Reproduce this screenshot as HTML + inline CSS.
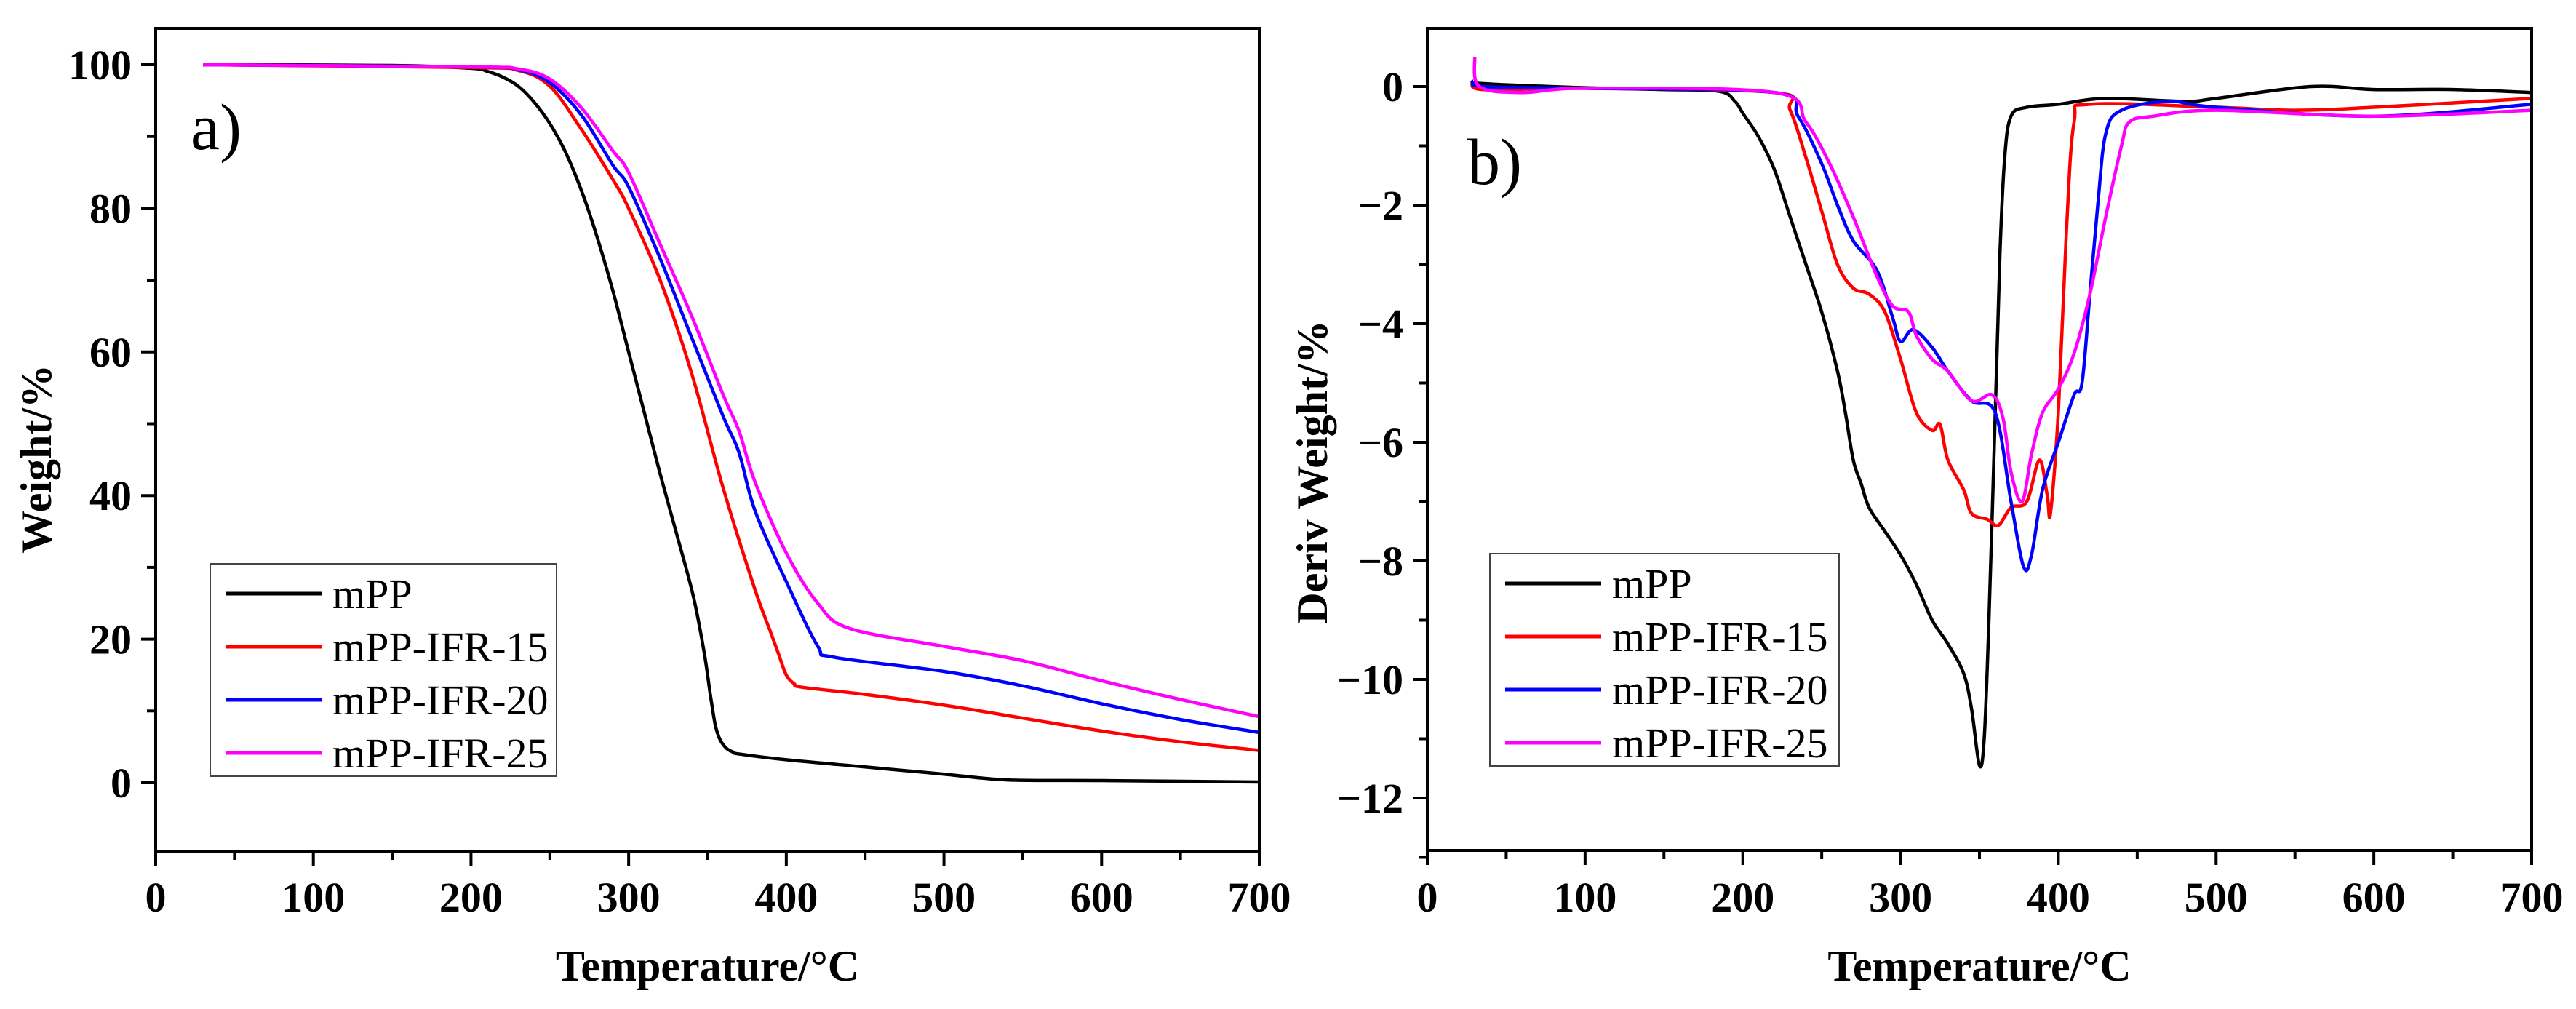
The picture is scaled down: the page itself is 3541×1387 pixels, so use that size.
<!DOCTYPE html>
<html><head><meta charset="utf-8"><style>
html,body{margin:0;padding:0;background:#fff;}
svg{display:block;font-family:"Liberation Serif","DejaVu Serif",serif;}
svg text{font-family:"Liberation Serif","DejaVu Serif",serif;}
</style></head><body>
<svg id="c" width="3541" height="1387" viewBox="0 0 3541 1387" xmlns="http://www.w3.org/2000/svg"></svg>
<script>
// ---- Data: TGA (panel a) ----
const tgaT_mPP = [30,150,200,210,220,230,240,250,260,270,280,290,300,310,320,330,341,348,352,355,358,362,366,370,400,450,500,540,600,700];
const tgaW_mPP = [100,99.9,99.5,99.1,98.3,97,94.8,91.8,87.8,82.5,76,68.5,60,51.5,43,35,26,18,12,8,6,4.8,4.3,4,3.2,2.2,1.2,0.4,0.3,0.1];
const tgaT_15 = [30,200,230,250,270,290,300,320,340,360,380,390,395,400,405,410,450,500,550,600,650,700];
const tgaW_15 = [100,99.6,99.2,97,91,84,80,70,57,41,27,21,18,15,13.8,13.3,12.3,10.8,9,7.2,5.7,4.5];
const tgaT_20 = [30,200,230,250,270,290,300,320,340,360,370,380,400,420,430,500,550,600,650,700];
const tgaW_20 = [100,99.7,99.3,97.5,93,86,83,73,62,51,46,38,28,19,17.5,15.5,13.5,11,8.8,7];
const tgaT_25 = [30,200,230,250,270,290,300,320,340,360,370,380,400,420,440,500,550,600,650,700];
const tgaW_25 = [100,99.7,99.4,98,94,88,85,75,65,54,49,42,32,25,21.5,19,17,14.2,11.6,9.2];
// ---- Data: DTG (panel b) ----
const dtgT_mPP = [30,35,100,150,185,195,200,210,220,230,240,250,260,265,270,275,280,290,300,310,320,330,340,345,350,353,356,360,363,366,370,380,400,430,480,500,560,600,650,700];
const dtgD_mPP = [0.1,0.05,-0.02,-0.05,-0.08,-0.25,-0.45,-0.85,-1.4,-2.2,-3.0,-3.8,-4.8,-5.5,-6.3,-6.7,-7.1,-7.5,-7.9,-8.4,-9.0,-9.4,-9.9,-10.5,-11.45,-11.0,-9,-5.5,-2.8,-1.2,-0.5,-0.35,-0.3,-0.2,-0.25,-0.2,0.0,-0.05,-0.05,-0.1];
const dtgT_15 = [30,35,100,220,230,240,250,260,270,280,290,300,310,320,325,330,340,345,355,362,370,380,388,393,395,400,405,410,420,500,550,600,700];
const dtgD_15 = [0.1,-0.05,-0.03,-0.1,-0.4,-1.2,-2.1,-3.0,-3.4,-3.5,-3.8,-4.6,-5.5,-5.8,-5.7,-6.3,-6.8,-7.2,-7.3,-7.4,-7.1,-7.0,-6.3,-6.9,-7.2,-5.5,-2.5,-0.6,-0.3,-0.35,-0.4,-0.35,-0.2];
const dtgT_20 = [30,35,100,220,235,250,260,270,285,295,300,308,320,330,345,360,370,378,383,390,400,410,415,420,425,430,440,470,500,600,700];
const dtgD_20 = [0.1,0.0,-0.03,-0.1,-0.5,-1.3,-2.0,-2.6,-3.1,-3.9,-4.3,-4.1,-4.4,-4.8,-5.3,-5.5,-7.0,-8.1,-7.9,-6.8,-6.0,-5.2,-5.0,-3.5,-2.0,-0.8,-0.4,-0.25,-0.35,-0.5,-0.3];
const dtgT_25 = [30,33,60,100,220,240,255,270,285,295,305,310,320,330,345,358,365,370,377,383,390,400,410,420,430,440,445,460,500,600,700];
const dtgD_25 = [0.5,0.0,-0.1,-0.03,-0.1,-0.6,-1.3,-2.2,-3.2,-3.7,-3.8,-4.2,-4.6,-4.8,-5.3,-5.2,-5.6,-6.5,-7.0,-6.2,-5.5,-5.1,-4.5,-3.5,-2.2,-1.0,-0.6,-0.5,-0.4,-0.5,-0.4];
const xTicks = [0,100,200,300,400,500,600,700];
const yTicksA = [0,20,40,60,80,100];
const yTicksB = [0,-2,-4,-6,-8,-10,-12];
const seriesNames = ["mPP","mPP-IFR-15","mPP-IFR-20","mPP-IFR-25"];
const colors = ["#000000","#ff0000","#0000ff","#ff00ff"];

const NS="http://www.w3.org/2000/svg";
const svg=document.getElementById('c');
function mk(tag,attrs,parent){const e=document.createElementNS(NS,tag);for(const k in attrs)e.setAttribute(k,attrs[k]);(parent||svg).appendChild(e);return e;}
function smoothPath(pts){
  let d='M'+pts[0][0].toFixed(1)+' '+pts[0][1].toFixed(1);
  for(let i=0;i<pts.length-1;i++){
    const p0=pts[i-1]||pts[i],p1=pts[i],p2=pts[i+1],p3=pts[i+2]||p2;
    const k=1/6;
    const c1=[p1[0]+(p2[0]-p0[0])*k,p1[1]+(p2[1]-p0[1])*k];
    const c2=[p2[0]-(p3[0]-p1[0])*k,p2[1]-(p3[1]-p1[1])*k];
    d+=' C'+c1[0].toFixed(1)+' '+c1[1].toFixed(1)+' '+c2[0].toFixed(1)+' '+c2[1].toFixed(1)+' '+p2[0].toFixed(1)+' '+p2[1].toFixed(1);
  }
  return d;
}

function panel(cfg){
  const g=mk('g',{});
  
  
  const X=v=>cfg.x0+(v-cfg.xmin)*(cfg.x1-cfg.x0)/(cfg.xmax-cfg.xmin);
  const Y=v=>cfg.y0v-(v-cfg.v0)*cfg.ppu;
  cfg.series.forEach((s,i)=>{
    const pts=s.t.map((t,j)=>[X(t),Y(s.v[j])]);
    const p=mk('path',{d:smoothPath(pts),fill:'none',stroke:colors[i],'stroke-width':4.5,'stroke-linejoin':'round'},g);
    
    
  });
  const fr=mk('rect',{x:cfg.x0,y:cfg.top,width:cfg.x1-cfg.x0,height:cfg.bottom-cfg.top,fill:'none',stroke:'#000','stroke-width':4},g);
  
  
  xTicks.forEach(t=>{
    const x=X(t);
    mk('line',{x1:x,y1:cfg.bottom,x2:x,y2:cfg.bottom+20,stroke:'#000','stroke-width':4},g);
    if(t<700) mk('line',{x1:X(t+50),y1:cfg.bottom,x2:X(t+50),y2:cfg.bottom+12,stroke:'#000','stroke-width':4},g);
    const tx=mk('text',{x:x,y:1253,'text-anchor':'middle','font-size':58,'font-weight':'bold'},g);
    tx.textContent=t;
    
    
  });
  cfg.yTicks.forEach(v=>{
    const y=Y(v);
    mk('line',{x1:cfg.x0-20,y1:y,x2:cfg.x0,y2:y,stroke:'#000','stroke-width':4},g);
    const ym=Y(v+cfg.minorStep);
    if(ym>cfg.top) mk('line',{x1:cfg.x0-12,y1:ym,x2:cfg.x0,y2:ym,stroke:'#000','stroke-width':4},g);
    const tx=mk('text',{x:cfg.x0-33,y:y+20,'text-anchor':'end','font-size':58,'font-weight':'bold'},g);
    tx.textContent=v<0?'\u2212'+(-v):v;
    
    
  });
  const xt=mk('text',{x:(cfg.x0+cfg.x1)/2,y:1348,'text-anchor':'middle','font-size':60,'font-weight':'bold'},g);
  xt.textContent='Temperature/°C';
  
  
  const yt=mk('text',{x:0,y:0,'text-anchor':'middle','font-size':60,'font-weight':'bold',transform:'translate('+cfg.ytx+','+cfg.yty+') rotate(-90)'},g);
  yt.textContent=cfg.ytitle;
  
  
  const pl=mk('text',{x:cfg.lblx,y:cfg.lbly,'font-size':90},g);
  pl.textContent=cfg.label;
  
  
  const lg=mk('g',{},g);
  
  
  mk('rect',{x:cfg.lg.x,y:cfg.lg.y,width:cfg.lg.w,height:cfg.lg.h,fill:'#fff',stroke:'#444','stroke-width':2},lg);
  seriesNames.forEach((n,i)=>{
    const ry=cfg.lg.y+41+i*73;
    const e=mk('g',{},lg);
    
    
    mk('line',{x1:cfg.lg.x+21,y1:ry,x2:cfg.lg.x+153,y2:ry,stroke:colors[i],'stroke-width':5},e);
    const t=mk('text',{x:cfg.lg.x+168,y:ry+20,'font-size':58},e);
    t.textContent=n;
  });
}

panel({name:'panel-a-tga',x0:214,x1:1731,xmin:0,xmax:700,top:39,bottom:1170,y0v:1076,v0:0,ppu:9.87,
  yTicks:yTicksA,minorStep:10,ytitle:'Weight/%',ytx:70,yty:631,label:'a)',lblx:262,lbly:205,
  lg:{x:289,y:775,w:476,h:292},
  series:[{t:tgaT_mPP,v:tgaW_mPP},{t:tgaT_15,v:tgaW_15},{t:tgaT_20,v:tgaW_20},{t:tgaT_25,v:tgaW_25}]});
panel({name:'panel-b-dtg',x0:1962,x1:3480,xmin:0,xmax:700,top:39,bottom:1169,y0v:119,v0:0,ppu:81.5,
  yTicks:yTicksB,minorStep:-1,ytitle:'Deriv Weight/%',ytx:1824,yty:649,label:'b)',lblx:2017,lbly:253,
  lg:{x:2048,y:761,w:480,h:292},
  series:[{t:dtgT_mPP,v:dtgD_mPP},{t:dtgT_15,v:dtgD_15},{t:dtgT_20,v:dtgD_20},{t:dtgT_25,v:dtgD_25}]});
</script>
</body></html>
